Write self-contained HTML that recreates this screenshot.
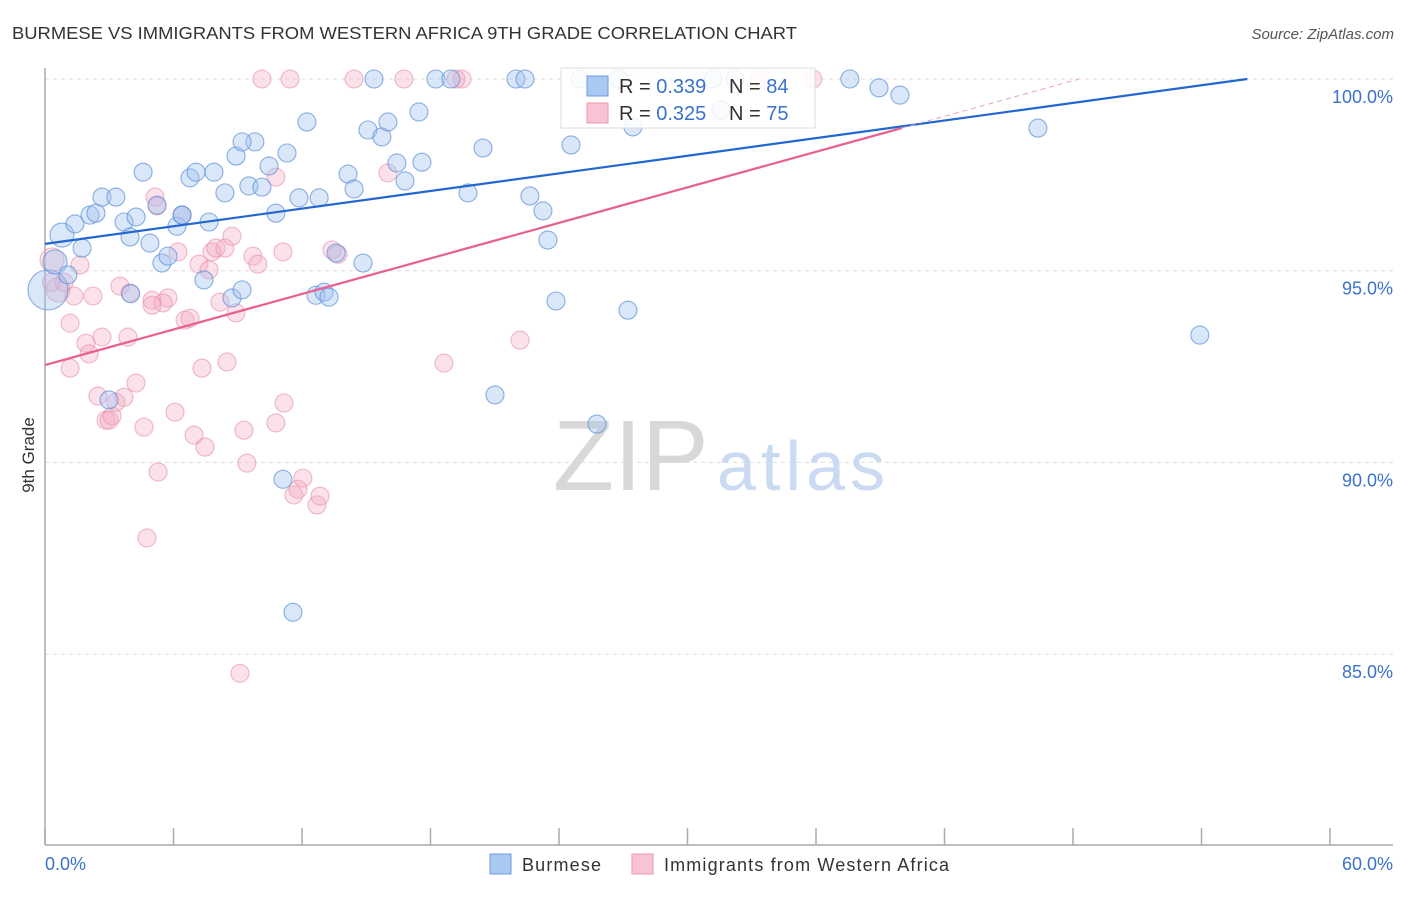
<!DOCTYPE html>
<html><head><meta charset="utf-8"><style>
body{margin:0;background:#fff;}
svg text{font-family:"Liberation Sans","DejaVu Sans",sans-serif;}
</style></head><body>
<svg id="chart" width="1406" height="892" viewBox="0 0 1406 892">
<text x="12" y="39" font-size="17.5" fill="#333" textLength="785" lengthAdjust="spacingAndGlyphs">BURMESE VS IMMIGRANTS FROM WESTERN AFRICA 9TH GRADE CORRELATION CHART</text>
<text x="1394" y="39" font-size="15" fill="#555" font-style="italic" text-anchor="end">Source: ZipAtlas.com</text>
<text transform="translate(34,455) rotate(-90)" font-size="17" fill="#333" text-anchor="middle">9th Grade</text>
<g id="grid"></g>
<g id="watermark">
<text x="553" y="490" font-size="100" fill="#d8d8d8" font-family="Liberation Serif,serif">ZIP</text>
<text x="717" y="490" font-size="70" fill="#c9daf2" textLength="168">atlas</text>
</g>
<g id="pts"></g>
<g id="lines"></g>
<g>
<rect x="561" y="68" width="254" height="60" fill="#fff" fill-opacity="0.85" stroke="#ddd"/>
<rect x="587" y="76" width="21" height="20" fill="#a9c8f2" stroke="#6a9be0"/>
<text x="619" y="93" font-size="20" fill="#333">R = <tspan fill="#3a72cc">0.339</tspan></text>
<text x="729" y="93" font-size="20" fill="#333">N = <tspan fill="#3a72cc">84</tspan></text>
<rect x="587" y="103" width="21" height="20" fill="#f8c3d3" stroke="#ee96b2"/>
<text x="619" y="120" font-size="20" fill="#333">R = <tspan fill="#3a72cc">0.325</tspan></text>
<text x="729" y="120" font-size="20" fill="#333">N = <tspan fill="#3a72cc">75</tspan></text>
</g>
<g>
<rect x="490" y="854" width="21" height="20" fill="#a9c8f2" stroke="#6a9be0"/>
<text x="522" y="871" font-size="18" fill="#333" textLength="79">Burmese</text>
<rect x="632" y="854" width="21" height="20" fill="#f8c3d3" stroke="#ee96b2"/>
<text x="664" y="871" font-size="18" fill="#333" textLength="285">Immigrants from Western Africa</text>
</g>
</svg>
<script>
const yTicks=[100,95,90,85];
const xTicks=[0,6,12,18,24,30,36,42,48,54,60];
const blueX=[0.14,0.79,0.47,1.07,1.40,2.10,2.38,1.73,2.66,3.31,3.69,3.97,4.25,4.58,4.90,5.23,5.46,5.74,6.16,6.40,6.77,7.05,7.66,7.89,7.42,8.40,8.73,8.92,9.20,9.52,9.80,10.13,10.46,10.78,11.30,11.86,12.23,12.65,13.03,13.26,13.59,14.15,14.43,14.85,15.08,15.73,16.01,16.43,16.81,17.46,17.60,15.36,18.25,18.95,19.75,20.45,21.01,21.99,22.41,22.64,23.25,23.48,23.86,24.56,24.98,25.77,26.80,27.22,27.45,31.19,31.56,32.21,37.58,38.94,39.92,46.36,53.92,2.99,11.11,11.58,6.40,9.20,4.00,12.80];
const blueY=[94.50,95.93,95.23,94.89,96.22,96.45,96.50,95.59,96.92,96.92,96.27,95.88,96.40,97.57,95.72,96.71,95.20,95.38,96.16,96.45,97.42,97.57,96.27,97.57,94.76,97.03,94.29,97.99,94.50,97.21,98.36,97.18,97.73,96.50,98.07,96.90,98.88,94.36,94.44,94.31,95.46,97.52,97.13,95.20,98.67,98.49,98.88,97.81,97.34,99.14,97.83,100,100,100,97.03,98.20,91.76,100,100,96.95,96.56,95.80,94.21,98.28,100,91.00,100,93.97,98.75,100,99.19,100,100,99.77,99.58,98.72,93.32,91.63,89.56,86.09,96.45,98.36,94.40,96.90];
const blueR=[20,12,12,9,9,9,9,9,9,9,9,9,9,9,9,9,9,9,9,9,9,9,9,9,9,9,9,9,9,9,9,9,9,9,9,9,9,9,9,9,9,9,9,9,9,9,9,9,9,9,9,9,9,9,9,9,9,9,9,9,9,9,9,9,9,9,9,9,9,9,9,9,9,9,9,9,9,9,9,9,9,9,9,9];
const pinkX=[0.33,0.61,0.89,1.35,1.63,2.24,1.17,1.17,1.91,2.06,2.47,2.66,2.85,3.13,3.31,3.69,3.50,3.97,3.87,4.25,4.62,4.76,5.00,5.14,5.28,5.23,5.74,5.51,6.07,6.21,6.40,6.54,6.77,6.96,7.19,7.33,7.47,7.66,7.80,7.98,8.17,8.40,8.50,8.73,8.92,9.10,9.29,9.43,9.71,9.94,10.13,10.78,10.78,11.11,11.16,11.44,11.62,11.81,12.04,12.70,12.84,13.40,13.68,14.43,16.01,16.76,18.63,19.19,19.47,22.18,33.38,35.85,5.00,3.00,0.30];
const pinkY=[95.28,94.50,94.70,94.34,95.15,94.34,93.63,92.46,93.11,92.83,91.73,93.27,91.10,91.21,91.57,91.70,94.60,94.42,93.27,92.07,90.92,88.03,94.23,96.92,89.75,96.69,94.29,94.16,91.31,95.49,96.45,93.71,93.76,90.71,95.17,92.46,90.40,95.02,95.49,95.59,94.18,95.59,92.62,95.90,93.90,84.50,90.84,89.98,95.38,95.17,100,97.44,91.03,95.49,91.55,100,89.15,89.30,89.59,88.89,89.12,95.54,95.43,100,97.55,100,92.59,100,100,93.19,100,100,94.10,91.10,94.70];
const pinkR=[12,12,9,9,9,9,9,9,9,9,9,9,9,9,9,9,9,9,9,9,9,9,9,9,9,9,9,9,9,9,9,9,9,9,9,9,9,9,9,9,9,9,9,9,9,9,9,9,9,9,9,9,9,9,9,9,9,9,9,9,9,9,9,9,9,9,9,9,9,9,9,9,9,9,9];
const blueTrend=[95.70,0.0766];
const pinkTrend=[92.54,0.1545];
const NS='http://www.w3.org/2000/svg';
const X0=45,X1=1330,YT=79,PX5=191.7;
function xs(v){return X0+(v/60)*(X1-X0);}
function ys(v){return YT+(100-v)/5*PX5;}
function mk(tag,attrs,parent){const e=document.createElementNS(NS,tag);for(const k in attrs)e.setAttribute(k,attrs[k]);parent.appendChild(e);return e;}
const grid=document.getElementById('grid');
yTicks.forEach(t=>{
 const l=mk('line',{x1:45,x2:1393,y1:ys(t),y2:ys(t),stroke:'#ddd','stroke-dasharray':'4,4'},grid);
 
 
 const tx=mk('text',{x:1393,y:ys(t)+24,'font-size':18,fill:'#3a72cc','text-anchor':'end'},grid);
 tx.textContent=t.toFixed(1)+'%';
 
 
});
const ax=mk('line',{x1:45,x2:45,y1:68,y2:845,stroke:'#aaa','stroke-width':1.5},grid);


const bx=mk('line',{x1:45,x2:1393,y1:845,y2:845,stroke:'#aaa','stroke-width':1.5},grid);


xTicks.forEach(t=>{
 const l=mk('line',{x1:xs(t),x2:xs(t),y1:828,y2:845,stroke:'#aaa','stroke-width':1.5},grid);
 
 
});
[[0,'start'],[60,'end']].forEach(([t,a])=>{
 const tx=mk('text',{x:t===0?45:1393,y:870,'font-size':18,fill:'#3a72cc','text-anchor':a},grid);
 tx.textContent=t.toFixed(1)+'%';
 
 
});
const pts=document.getElementById('pts');
pinkX.forEach((v,i)=>{
 const c=mk('circle',{cx:xs(v),cy:ys(pinkY[i]),r:pinkR[i],fill:'#f4a9c0','fill-opacity':0.35,stroke:'#e98aa8','stroke-opacity':0.6,'stroke-width':1.1},pts);
 
 
});
blueX.forEach((v,i)=>{
 const c=mk('circle',{cx:xs(v),cy:ys(blueY[i]),r:blueR[i],fill:'#a2c4ef','fill-opacity':0.4,stroke:'#5a8edc','stroke-opacity':0.7,'stroke-width':1.1},pts);
 
 
});
const lines=document.getElementById('lines');
const bEnd=(100-blueTrend[0])/blueTrend[1];
const bl=mk('line',{x1:xs(0),y1:ys(blueTrend[0]),x2:xs(bEnd),y2:ys(100),stroke:'#2267d1','stroke-width':2.2},lines);


const pSolid=40;
const pl=mk('line',{x1:xs(0),y1:ys(pinkTrend[0]),x2:xs(pSolid),y2:ys(pinkTrend[0]+pinkTrend[1]*pSolid),stroke:'#e8608c','stroke-width':2.2},lines);


const pEnd=(100-pinkTrend[0])/pinkTrend[1];
const pd=mk('line',{x1:xs(pSolid),y1:ys(pinkTrend[0]+pinkTrend[1]*pSolid),x2:xs(pEnd),y2:ys(100),stroke:'#e8a0b8','stroke-width':1,'stroke-dasharray':'5,4'},lines);


</script>
</body></html>
